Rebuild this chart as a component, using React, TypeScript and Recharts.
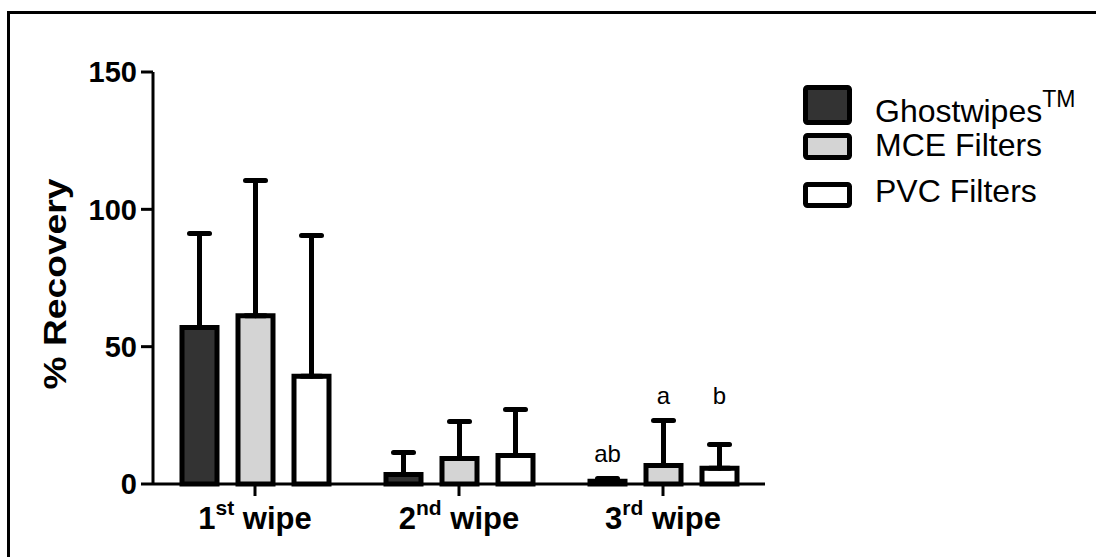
import React from "react";
import { BarChart, Bar, XAxis, YAxis, ErrorBar, LabelList } from "recharts";

const wipeNumbers = ["1", "2", "3"];
const wipeSuffixes = ["st", "nd", "rd"];

const ghostwipes = [57, 3.5, 1];
const ghostwipesSd = [34.2, 8, 1];
const mceFilters = [61.3, 9.3, 6.7];
const mceSd = [49.2, 13.5, 16.4];
const pvcFilters = [39.2, 10.4, 5.7];
const pvcSd = [51.3, 16.7, 8.7];

// significance letters and the % level their baseline sits at
const ghostLetters = ["", "", "ab"];
const mceLetters = ["", "", "a"];
const pvcLetters = ["", "", "b"];
const ghostLetterLevel = 8;
const mceLetterLevel = 29;
const pvcLetterLevel = 29;

const yTicks = [0, 50, 100, 150];

const data = wipeNumbers.map((n, i) => ({
  wipe: n + wipeSuffixes[i] + " wipe",
  ghost: ghostwipes[i],
  ghostErr: [0, ghostwipesSd[i]],
  ghostLetter: ghostLetters[i],
  mce: mceFilters[i],
  mceErr: [0, mceSd[i]],
  mceLetter: mceLetters[i],
  pvc: pvcFilters[i],
  pvcErr: [0, pvcSd[i]],
  pvcLetter: pvcLetters[i],
}));

const FONT = "'Liberation Sans', Arial, Helvetica, sans-serif";
const PLOT_TOP = 72;
const PLOT_BOTTOM = 484;
const Y_MAX = 150;

const WipeTick = (props: any) => {
  const { x, y, index } = props;
  return (
    <text x={x} y={y + 31} textAnchor="middle" fontFamily={FONT} fontSize={31} fontWeight="bold" fill="#000">
      {wipeNumbers[index]}
      <tspan dy={-14} fontSize={21}>{wipeSuffixes[index]}</tspan>
      <tspan dy={14}>{"\u00a0wipe"}</tspan>
    </text>
  );
};

const YLabel = () => (
  <text
    transform="translate(66,284) rotate(-90) scale(1.2,1)"
    textAnchor="middle"
    fontFamily={FONT}
    fontSize={31}
    fontWeight="bold"
    fill="#000"
  >
    % Recovery
  </text>
);

const letterContent = (level: number) => (props: any) => {
  const { x, width, value } = props;
  if (!value) return null;
  const y = PLOT_BOTTOM - (level * (PLOT_BOTTOM - PLOT_TOP)) / Y_MAX;
  return (
    <text x={x + width / 2} y={y} textAnchor="middle" fontFamily={FONT} fontSize={24} fill="#000">
      {value}
    </text>
  );
};

const LegendBox = () => (
  <svg width={293} height={130} style={{ position: "absolute", left: 803, top: 85 }}>
    <rect x={2.5} y={2.5} width={44} height={35} rx={2} fill="#333333" stroke="#000" strokeWidth={5} />
    <text x={72} y={37} fontFamily={FONT} fontSize={32} fill="#000">
      Ghostwipes<tspan dy={-15} fontSize={23}>TM</tspan>
    </text>
    <rect x={2.5} y={50.5} width={44} height={22} rx={2} fill="#d4d4d4" stroke="#000" strokeWidth={5} />
    <text x={72} y={71} fontFamily={FONT} fontSize={32} fill="#000">
      MCE Filters
    </text>
    <rect x={2.5} y={99.5} width={44} height={21} rx={2} fill="#ffffff" stroke="#000" strokeWidth={5} />
    <text x={72} y={117} fontFamily={FONT} fontSize={32} fill="#000">
      PVC Filters
    </text>
  </svg>
);

export default function App() {
  return (
    <div style={{ position: "absolute", left: 0, top: 0, width: 1096, height: 557, background: "#fff" }}>
      <div style={{ position: "absolute", left: 7, top: 11, right: 0, height: 3, background: "#000" }} />
      <div style={{ position: "absolute", left: 7, top: 11, bottom: 0, width: 3, background: "#000" }} />
      <div style={{ position: "absolute", left: 0, top: 0 }}>
        <BarChart
          width={1096}
          height={557}
          data={data}
          margin={{ top: PLOT_TOP, right: 331, bottom: 13, left: 73 }}
          barSize={35}
          barGap={21}
        >
          <XAxis
            dataKey="wipe"
            height={60}
            axisLine={{ stroke: "#000", strokeWidth: 3 }}
            tickLine={{ stroke: "#000", strokeWidth: 3 }}
            tickSize={12}
            tick={<WipeTick />}
            interval={0}
          />
          <YAxis
            width={80}
            domain={[0, Y_MAX]}
            ticks={yTicks}
            axisLine={{ stroke: "#000", strokeWidth: 3 }}
            tickLine={{ stroke: "#000", strokeWidth: 3 }}
            tickSize={12}
            tickMargin={4}
            tick={{ fill: "#000", fontSize: 29, fontWeight: "bold", fontFamily: FONT }}
            label={<YLabel />}
          />
          <Bar dataKey="ghost" fill="#333333" stroke="#000" strokeWidth={5} isAnimationActive={false}>
            <ErrorBar dataKey="ghostErr" width={10} stroke="#000" strokeWidth={5} strokeLinecap="round" direction="y" />
            <LabelList dataKey="ghostLetter" content={letterContent(ghostLetterLevel)} />
          </Bar>
          <Bar dataKey="mce" fill="#d4d4d4" stroke="#000" strokeWidth={5} isAnimationActive={false}>
            <ErrorBar dataKey="mceErr" width={10} stroke="#000" strokeWidth={5} strokeLinecap="round" direction="y" />
            <LabelList dataKey="mceLetter" content={letterContent(mceLetterLevel)} />
          </Bar>
          <Bar dataKey="pvc" fill="#ffffff" stroke="#000" strokeWidth={5} isAnimationActive={false}>
            <ErrorBar dataKey="pvcErr" width={10} stroke="#000" strokeWidth={5} strokeLinecap="round" direction="y" />
            <LabelList dataKey="pvcLetter" content={letterContent(pvcLetterLevel)} />
          </Bar>
        </BarChart>
      </div>
      <LegendBox />
    </div>
  );
}
